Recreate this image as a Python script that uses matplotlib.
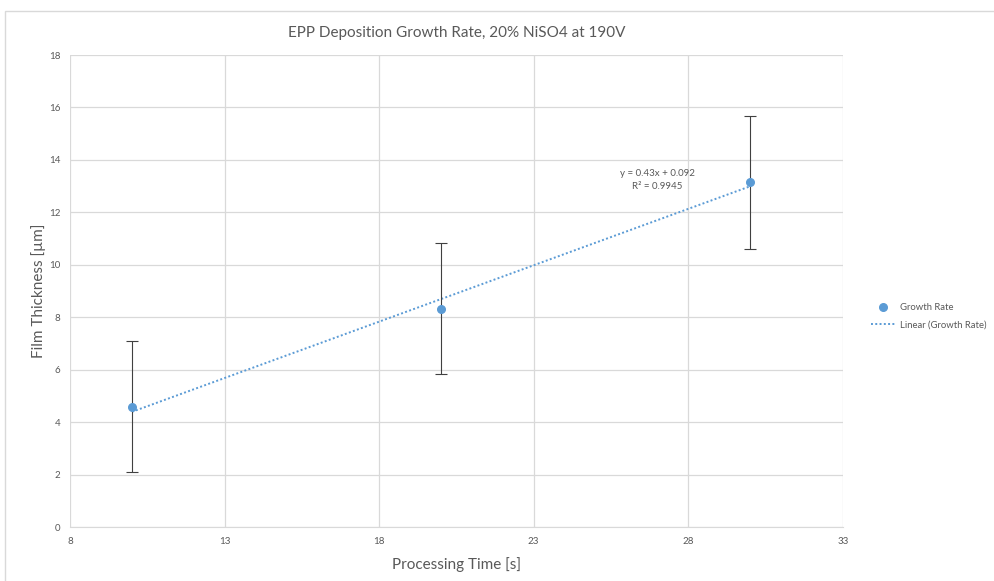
import matplotlib
matplotlib.use('Agg')
import matplotlib.pyplot as plt
from matplotlib.patches import Rectangle
import numpy as np

plt.rcParams['font.family'] = ['Lato', 'DejaVu Sans']

# data
times = [10, 20, 30]
thickness = [4.58, 8.32, 13.15]
errors = [2.5, 2.5, 2.53]
slope, intercept = 0.43, 0.092
x_ticks = [8, 13, 18, 23, 28, 33]
y_ticks = [0, 2, 4, 6, 8, 10, 12, 14, 16, 18]

blue = '#5B9BD5'
text_gray = '#595959'
grid_gray = '#D9D9D9'

fig = plt.figure(figsize=(9.95, 5.81), dpi=100)
ax = fig.add_axes([0.0704, 0.0929, 0.7766, 0.8124])

# chart border
fig.patches.append(Rectangle((5 / 995, -0.01), 1.0, 1 - 11 / 581 + 0.01,
                             transform=fig.transFigure, fill=False,
                             edgecolor='#D9D9D9', linewidth=1))

ax.errorbar(times, thickness, yerr=errors, fmt='none', ecolor='#404040',
            elinewidth=0.8, capsize=4, capthick=0.8, zorder=3)
ax.scatter(times, thickness, s=30, color=blue, zorder=4, label='Growth Rate')

xt = np.array([times[0], times[-1]])
ax.plot(xt, slope * xt + intercept, linestyle=(0, (1, 1.2)), color=blue,
        linewidth=1.4, zorder=2, label='Linear (Growth Rate)')

ax.text(27.0, 13.24, 'y = 0.43x + 0.092\nR² = 0.9945', fontsize=7,
        color=text_gray, ha='center', va='center', linespacing=1.5)

ax.set_xlim(8, 33)
ax.set_ylim(0, 18)
ax.set_xticks(x_ticks)
ax.set_yticks(y_ticks)
ax.tick_params(axis='both', length=0, labelsize=7, colors=text_gray, pad=7)
ax.grid(True, color=grid_gray, linewidth=0.9)
ax.set_axisbelow(True)
for side in ['top', 'right', 'left']:
    ax.spines[side].set_visible(False)
ax.spines['bottom'].set_color(grid_gray)

ax.set_xlabel('Processing Time [s]', fontsize=11, color=text_gray, labelpad=8)
ax.set_ylabel('Film Thickness [µm]', fontsize=11, color=text_gray, labelpad=2)
ax.set_title('EPP Deposition Growth Rate, 20% NiSO4 at 190V', fontsize=11,
             color=text_gray, pad=13)

ax.legend(loc='center left', bbox_to_anchor=(1.025, 0.447), frameon=False,
          fontsize=6.8, labelcolor=text_gray, handlelength=2.7,
          handletextpad=0.4, labelspacing=0.9, scatterpoints=1)

fig.savefig('out.png', dpi=100)
